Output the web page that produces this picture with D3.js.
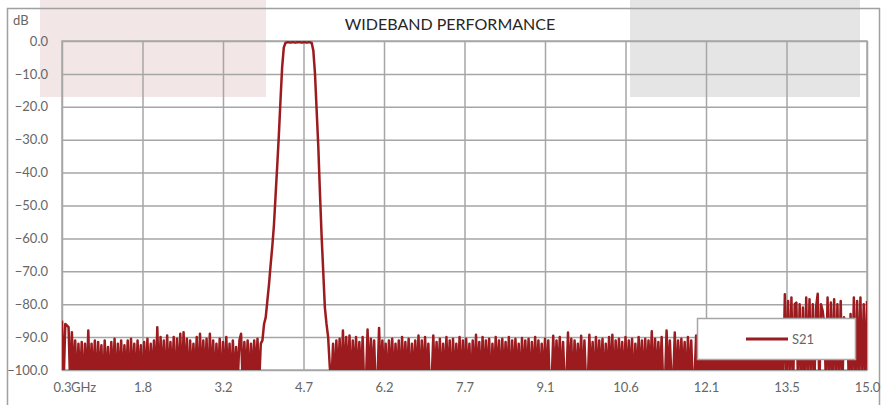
<!DOCTYPE html>
<html>
<head>
<meta charset="utf-8">
<script src="https://cdn.jsdelivr.net/npm/d3@7"></script>
<style>
  body { margin: 0; background: #fff; }
  text { font-family: Lato, "Open Sans", sans-serif; }
</style>
</head>
<body>
<div id="chart"></div>
<script>
// sweep data (GHz, dB), one point every 0.03 GHz
var sweepStep = 0.03;

var lowNoiseStart = 0.3;
var lowNoise = [
  -85, -104, -86, -86.5, -87, -105, -88.5, -103, -91, -106,
  -92, -104, -91.5, -107, -92, -105, -88, -106, -92, -104,
  -91, -107, -91.5, -103, -92.5, -108, -91, -104, -93, -106,
  -91.5, -103, -90.5, -107, -92, -104, -91, -105, -92.5, -103,
  -91, -108, -90.5, -104, -92, -106, -91, -103, -92.5, -107,
  -91.5, -104, -90.5, -105, -92, -103, -91, -106, -87, -105,
  -90, -103, -91, -107, -89.5, -104, -91.5, -103, -90, -108,
  -90.5, -104, -89, -105, -88.5, -103, -90.5, -107, -91, -104,
  -92, -103, -90, -106, -89, -104, -91, -103, -90.5, -107,
  -89, -104, -91, -105, -92, -103, -90.5, -108, -91.5, -104,
  -90, -103, -92, -106, -91, -104, -93, -103, -91, -89,
  -105, -91.5, -103, -91, -106, -92, -103, -91, -102, -90.5,
  -104, -92
];

var passbandStart = 3.96;
var passband = [
  -91, -86, -84, -79, -74, -68, -62.5, -56, -47, -38,
  -28.6, -18, -8, -2, -0.6, -0.4, -0.4, -0.5, -0.4, -0.4,
  -0.5, -0.4, -0.4, -0.4, -0.5, -0.4, -0.4, -0.5, -0.4, -0.4,
  -0.6, -3, -10, -21, -32, -46, -59, -70, -81, -86,
  -90, -99
];

var highNoiseStart = 5.22;
var highNoise = [
  -104, -92, -106, -91, -103, -90.5, -106, -88, -104, -90,
  -103, -89.5, -107, -91, -103, -90, -105, -91.5, -104, -90,
  -106, -104, -87.7, -105, -90.5, -103, -91, -107, -104, -87.2,
  -104, -91, -103, -92, -107, -91, -103, -90.5, -105, -92,
  -103, -91, -106, -90, -104, -91.5, -103, -90.5, -107, -92,
  -104, -91, -103, -89.5, -106, -91, -104, -90, -103, -92,
  -107, -104, -89.5, -104, -91.5, -103, -90.5, -106, -92, -104,
  -90, -103, -91, -108, -90.5, -104, -92, -103, -90, -106,
  -91, -104, -90.5, -103, -92, -107, -91, -104, -89.3, -103,
  -91.5, -106, -90, -104, -91, -103, -90.5, -107, -92, -104,
  -90, -103, -91, -106, -90.5, -104, -91.5, -103, -90, -108,
  -91, -104, -90.5, -103, -92, -106, -90.3, -104, -91, -103,
  -90.5, -107, -91.5, -104, -90, -103, -91, -106, -92, -104,
  -90.5, -103, -91, -107, -105, -89.6, -104, -91, -103, -90,
  -106, -91.5, -104, -104, -88.6, -103, -90.5, -107, -91, -104,
  -92, -103, -89.6, -106, -91, -104, -105, -89.3, -103, -91.5,
  -107, -90, -104, -91, -103, -90.5, -106, -92, -104, -90,
  -103, -89.3, -107, -91, -104, -90.5, -103, -91.5, -106, -90,
  -104, -91, -103, -90.5, -108, -92, -104, -90, -103, -91,
  -106, -90.5, -104, -91, -103, -88.2, -107, -90.5, -104, -91.5,
  -103, -90, -106, -105, -88, -104, -91, -103, -104, -88.6,
  -106, -91, -104, -90.5, -103, -91.5, -107, -90, -104, -91,
  -105, -103, -89.5, -106, -90.5, -104, -90, -103, -91, -107,
  -89.5, -104, -90.5, -103, -90, -106, -91, -104, -89.5, -103,
  -90.5, -107, -90, -104, -91, -103, -89.5, -106, -90.5, -104,
  -90, -103, -91, -107, -89.5, -104, -90.5, -103, -90, -106,
  -91, -104, -89.5, -103, -90.5, -107, -90, -104, -91, -103,
  -89.5, -106, -90.5, -104, -90, -103,
  -77, -105, -79, -104, -78, -106, -80, -79.5, -104, -80,
  -105, -81, -106, -78, -104, -78.5, -105, -80, -104, -81,
  -76.8, -106, -80, -82, -86, -104, -78, -106, -79.5, -104,
  -78.5, -105, -80, -104, -79, -106, -84, -88, -85, -105,
  -83, -104, -78, -106, -79, -104, -78, -105, -80, -104,
  -79
];

var xTicks = [0.3, 1.77, 3.24, 4.71, 6.18, 7.65, 9.12, 10.59, 12.06, 13.53, 15.0];
var yTicks = [0, -10, -20, -30, -40, -50, -60, -70, -80, -90, -100];

var seriesName = 'S21';
var titleText = 'WIDEBAND PERFORMANCE';

// build [freq, dB] points
function toPoints(start, values) {
    return values.map(function(v, i) {
        return [start + i * sweepStep, v];
    });
}
var s21 = toPoints(lowNoiseStart, lowNoise)
    .concat(toPoints(passbandStart, passband))
    .concat(toPoints(highNoiseStart, highNoise));

// dimensions
var width = 883;
var height = 405;
var plot = { left: 62, top: 41, right: 867, bottom: 370 };
var lineColor = '#9b1b1f';
var gridColor = '#a6a6a6';
var labelColor = '#666666';

var svg = d3.select('#chart')
    .append('svg')
    .attr('width', width)
    .attr('height', height);

// shaded boxes behind the chart
svg.append('rect')
    .attr('x', 40).attr('y', 0)
    .attr('width', 226).attr('height', 97)
    .attr('fill', '#f3e6e6');

svg.append('rect')
    .attr('x', 630).attr('y', 0)
    .attr('width', 230).attr('height', 97)
    .attr('fill', '#e5e5e5');

// outer chart border
svg.append('rect')
    .attr('x', 7.5).attr('y', 8.5)
    .attr('width', 872).attr('height', 420)
    .attr('fill', 'none')
    .attr('stroke', '#a0a0a0')
    .attr('stroke-width', 1.5);

// scales
var x_scale = d3.scaleLinear()
    .domain([0.3, 15.0])
    .range([plot.left, plot.right]);

var y_scale = d3.scaleLinear()
    .domain([-100, 0])
    .range([plot.bottom, plot.top]);

// axes drawn as grids
var x_axis = d3.axisBottom(x_scale)
    .tickValues(xTicks)
    .tickFormat(d3.format('.1f'))
    .tickSizeInner(-(plot.bottom - plot.top))
    .tickSizeOuter(0)
    .tickPadding(13);

var y_axis = d3.axisLeft(y_scale)
    .tickValues(yTicks)
    .tickFormat(d3.format('.1f'))
    .tickSizeInner(-(plot.right - plot.left))
    .tickSizeOuter(0)
    .tickPadding(14);

var gx = svg.append('g')
    .attr('class', 'x-axis')
    .attr('transform', 'translate(0,' + plot.bottom + ')')
    .call(x_axis);

var gy = svg.append('g')
    .attr('class', 'y-axis')
    .attr('transform', 'translate(' + plot.left + ',0)')
    .call(y_axis);

[gx, gy].forEach(function(g) {
    g.select('.domain').remove();
    g.selectAll('line')
        .attr('stroke', gridColor)
        .attr('stroke-width', 1.5);
    g.selectAll('text')
        .attr('fill', labelColor)
        .attr('font-size', 13);
});

// plot area border
svg.append('rect')
    .attr('x', plot.left).attr('y', plot.top)
    .attr('width', plot.right - plot.left)
    .attr('height', plot.bottom - plot.top)
    .attr('fill', 'none')
    .attr('stroke', gridColor)
    .attr('stroke-width', 1.5);

// clip series to plot area
svg.append('clipPath')
    .attr('id', 'plot-clip')
    .append('rect')
    .attr('x', plot.left).attr('y', plot.top - 5)
    .attr('width', plot.right - plot.left)
    .attr('height', plot.bottom - plot.top + 5);

var line = d3.line()
    .x(function(d) { return x_scale(d[0]); })
    .y(function(d) { return y_scale(d[1]); });

svg.append('path')
    .datum(s21)
    .attr('clip-path', 'url(#plot-clip)')
    .attr('d', line)
    .attr('fill', 'none')
    .attr('stroke', lineColor)
    .attr('stroke-width', 2.5)
    .attr('stroke-linejoin', 'round');

// texts
svg.append('text')
    .attr('x', 450)
    .attr('y', 30)
    .attr('text-anchor', 'middle')
    .attr('font-size', 16)
    .attr('fill', '#262626')
    .text(titleText);

svg.append('text')
    .attr('x', 13)
    .attr('y', 25)
    .attr('font-size', 13)
    .attr('fill', labelColor)
    .text('dB');

svg.append('text')
    .attr('x', 71)
    .attr('y', plot.bottom + 13)
    .attr('dy', '0.71em')
    .attr('font-size', 13)
    .attr('fill', labelColor)
    .text('GHz');

// legend
var legend = svg.append('g');
legend.append('rect')
    .attr('x', 697.5).attr('y', 318.5)
    .attr('width', 158).attr('height', 41)
    .attr('fill', '#fff')
    .attr('stroke', gridColor)
    .attr('stroke-width', 1.5);
legend.append('line')
    .attr('x1', 746).attr('x2', 788)
    .attr('y1', 339).attr('y2', 339)
    .attr('stroke', lineColor)
    .attr('stroke-width', 3);
legend.append('text')
    .attr('x', 792)
    .attr('y', 344)
    .attr('font-size', 13)
    .attr('fill', labelColor)
    .text(seriesName);
</script>
</body>
</html>
